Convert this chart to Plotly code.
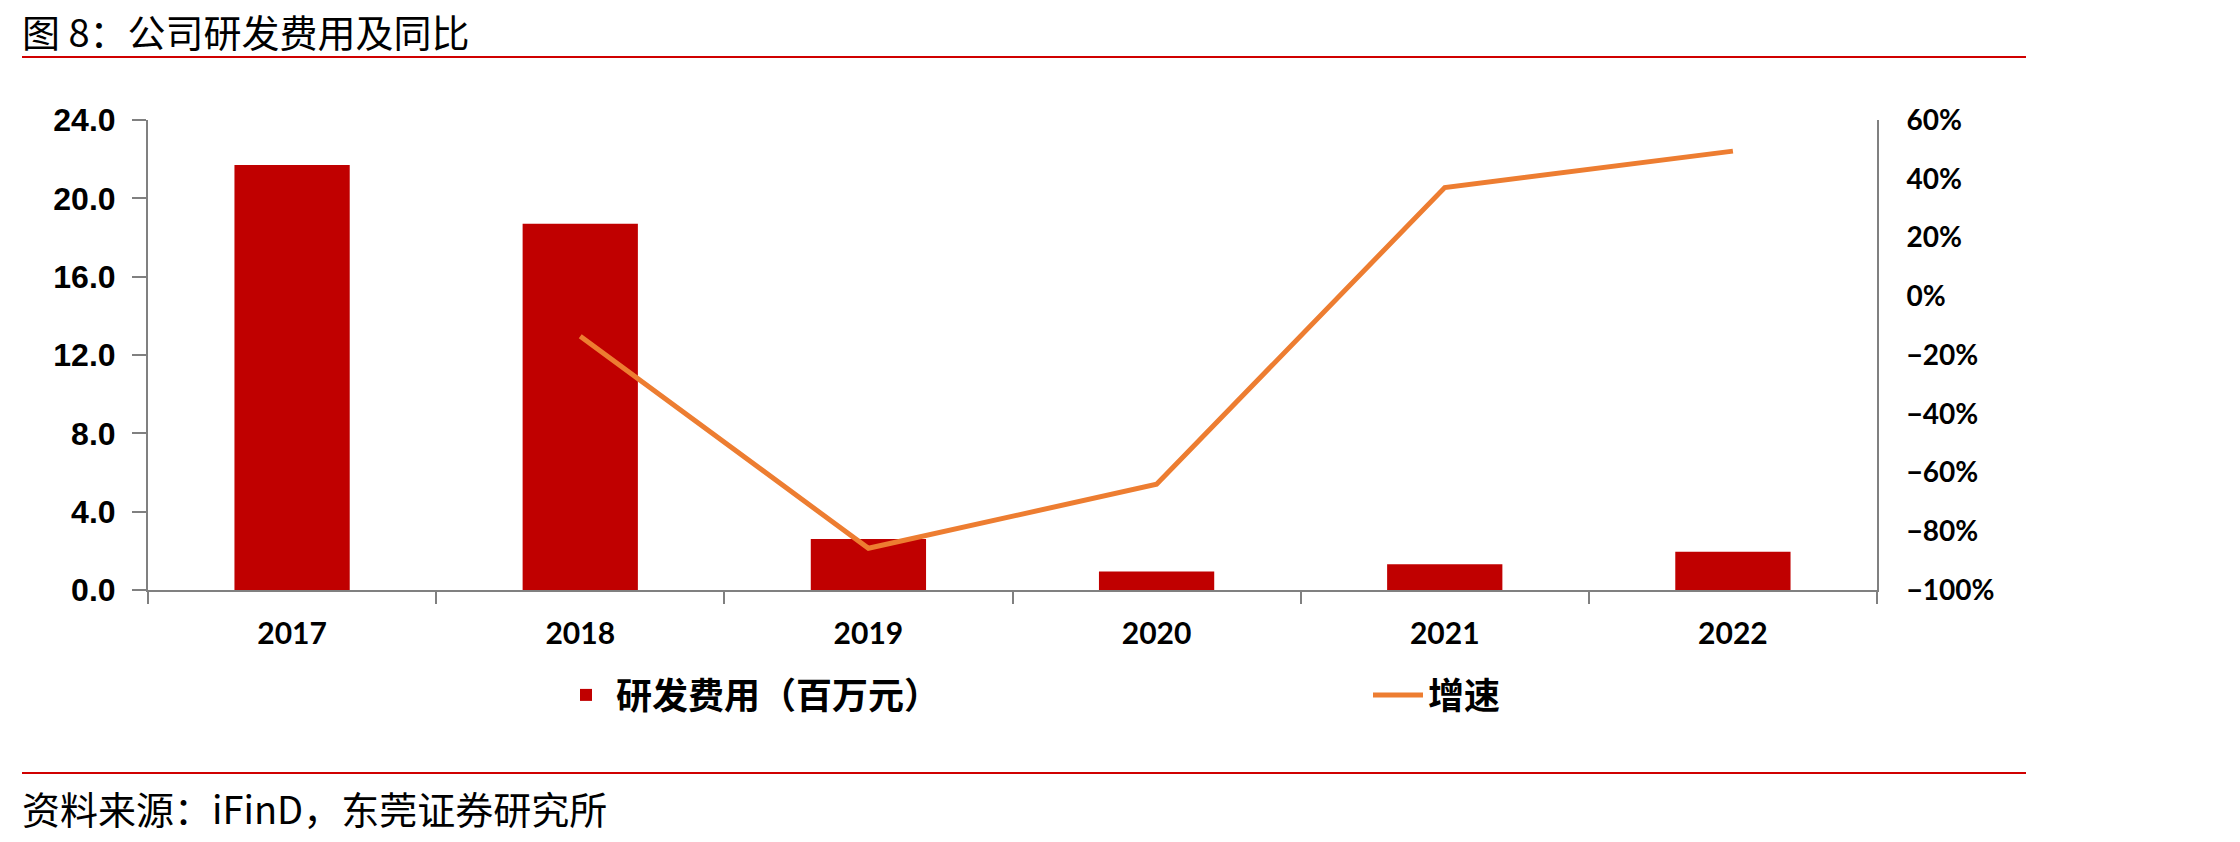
import plotly.graph_objects as go

# ---- data ----
years = ["2017", "2018", "2019", "2020", "2021", "2022"]
rd_expense = [21.7, 18.7, 2.6, 0.95, 1.31, 1.95]          # 研发费用（百万元）
growth = [None, -13.6, -85.8, -64.0, 37.0, 49.4]          # 增速 (%)

left_ticks = [0, 4, 8, 12, 16, 20, 24]
left_labels = ["0.0", "4.0", "8.0", "12.0", "16.0", "20.0", "24.0"]
right_ticks = [-100, -80, -60, -40, -20, 0, 20, 40, 60]
right_labels = ["−100%", "−80%", "−60%", "−40%", "−20%", "0%", "20%", "40%", "60%"]

# ---- layout geometry (pixels) ----
W, H = 2240, 842
L, R, T, B = 148, 1877, 120, 590
PW, PH = R - L, B - T

def px_x(x):
    return (x - L) / PW

def px_y(y):
    return (B - y) / PH

BAR_RED = "#C00000"
LINE_ORANGE = "#ED7D31"
AXIS_GRAY = "#808080"
CJK = "Noto Sans CJK SC"

fig = go.Figure()
fig.add_trace(go.Bar(
    x=years, y=rd_expense, name="研发费用（百万元）",
    marker=dict(color=BAR_RED, line=dict(width=0)),
    width=0.4, legend="legend",
))
fig.add_trace(go.Scatter(
    x=years, y=growth, name="增速", mode="lines",
    line=dict(color=LINE_ORANGE, width=5),
    yaxis="y2", legend="legend2", connectgaps=False,
))

fig.update_layout(
    width=W, height=H,
    margin=dict(l=L, r=W - R, t=T, b=H - B, pad=0, autoexpand=False),
    paper_bgcolor="white", plot_bgcolor="white",
    showlegend=True,
    annotations=[
        dict(text="图 8：公司研发费用及同比", xref="paper", yref="paper",
             x=px_x(20), y=px_y(30), xanchor="left", yanchor="middle",
             showarrow=False, font=dict(family=CJK, size=38, color="black")),
        dict(text="资料来源：iFinD，东莞证券研究所", xref="paper", yref="paper",
             x=px_x(20), y=px_y(807), xanchor="left", yanchor="middle",
             showarrow=False, font=dict(family=CJK, size=38, color="black")),
    ],
    xaxis=dict(
        type="category",
        showline=True, linecolor=AXIS_GRAY, linewidth=2,
        ticks="outside", tickson="boundaries", ticklen=12,
        tickcolor=AXIS_GRAY, tickwidth=2,
        showgrid=False, zeroline=False, tickangle=0,
        tickfont=dict(family="Lato", size=30, color="black", weight="bold"),
        ticklabelstandoff=16, automargin=False,
    ),
    yaxis=dict(
        range=[0, 24], tickvals=left_ticks, ticktext=left_labels,
        showline=True, linecolor=AXIS_GRAY, linewidth=2,
        ticks="outside", ticklen=14, tickcolor=AXIS_GRAY, tickwidth=2,
        showgrid=False, zeroline=False,
        tickfont=dict(family="Liberation Sans", size=32, color="black", weight="bold"),
        ticklabelstandoff=10, automargin=False,
    ),
    yaxis2=dict(
        range=[-100, 60], tickvals=right_ticks, ticktext=right_labels,
        overlaying="y", side="right",
        showline=True, linecolor=AXIS_GRAY, linewidth=2,
        ticks="", showgrid=False, zeroline=False,
        tickfont=dict(family="Lato", size=28, color="black", weight="bold"),
        ticklabelstandoff=22, automargin=False,
    ),
    legend=dict(
        xref="container", yref="container",
        x=556 / W, xanchor="left", y=1 - 695 / H, yanchor="middle",
        font=dict(family=CJK, size=36, color="black", weight="bold"),
        bgcolor="rgba(0,0,0,0)", itemwidth=50,
    ),
    legend2=dict(
        xref="container", yref="container",
        x=1368 / W, xanchor="left", y=1 - 695 / H, yanchor="middle",
        font=dict(family=CJK, size=36, color="black", weight="bold"),
        bgcolor="rgba(0,0,0,0)", itemwidth=50,
    ),
    shapes=[
        dict(type="line", xref="paper", yref="paper",
             x0=px_x(22), x1=px_x(2026), y0=px_y(57), y1=px_y(57),
             line=dict(color="#D00000", width=2)),
        dict(type="line", xref="paper", yref="paper",
             x0=px_x(22), x1=px_x(2026), y0=px_y(773), y1=px_y(773),
             line=dict(color="#D00000", width=2)),
    ],
)

fig.write_html("out.html")
